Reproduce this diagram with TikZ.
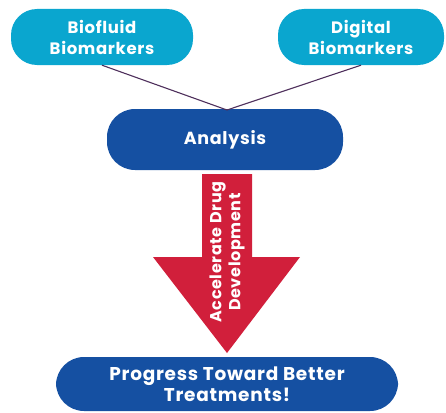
\documentclass[tikz,border=0pt]{standalone}
\usepackage{fontspec}
\setmainfont{Poppins}[LetterSpace=4]
\begin{document}
\begin{tikzpicture}[x=1pt,y=-1pt,
  cyanbox/.style={draw=none,fill=cyanc,rounded corners=26pt,text=white,font=\bfseries\fontsize{16.5}{21}\selectfont,align=center},
  bluebox/.style={draw=none,fill=bluec,rounded corners=28pt,text=white,font=\bfseries\fontsize{17.5}{21}\selectfont,align=center},
  link/.style={draw=linec,line width=1.1pt}]
\definecolor{cyanc}{HTML}{0AA6CF}
\definecolor{bluec}{HTML}{1550A2}
\definecolor{redc}{HTML}{D11F3B}
\definecolor{linec}{HTML}{4E2F5C}
\useasboundingbox (0,0) rectangle (446,412);
\node[cyanbox,minimum width=182pt,minimum height=56pt] (bio) at (102,37) {Biofluid\\Biomarkers};
\node[cyanbox,minimum width=166pt,minimum height=56pt] (dig) at (361,37) {Digital\\Biomarkers};
\node[bluebox,minimum width=236pt,minimum height=61pt] (ana) at (225,139.5) {Analysis};
\node[bluebox,minimum width=342pt,minimum height=54pt,font=\bfseries\fontsize{18.5}{21}\selectfont] (prog) at (227,384) {Progress Toward Better\\Treatments!};
\coordinate (join) at (227,110);
\draw[link] (bio.south) -- (join);
\draw[link] (dig.south) -- (join);
\fill[redc] (202,174) -- (252,174) -- (252,257) -- (300,257) -- (227,353) -- (153,257) -- (202,257) -- cycle;
\node[rotate=90,text=white,font=\bfseries\fontsize{16}{19}\selectfont,align=center] (acc) at (227,252) {Accelerate Drug\\Development};
\end{tikzpicture}
\end{document}
